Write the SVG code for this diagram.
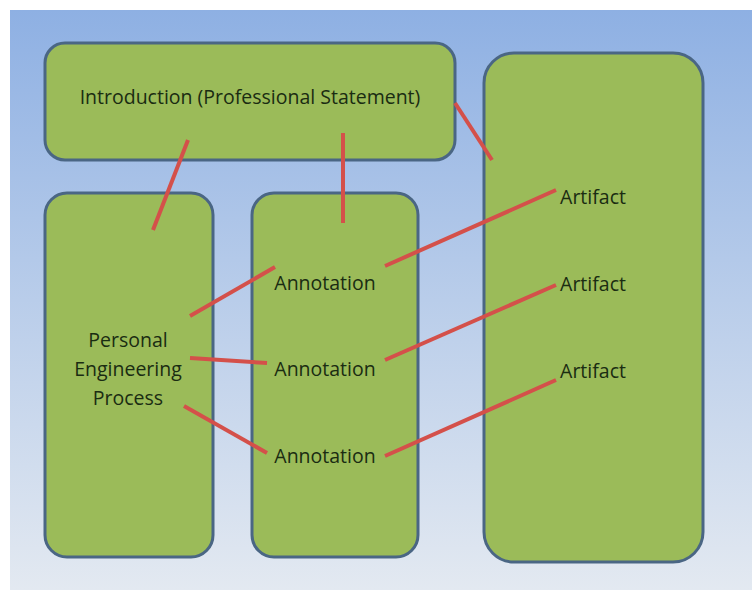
<svg xmlns="http://www.w3.org/2000/svg" width="752" height="591" viewBox="0 0 752 591">
<defs>
<linearGradient id="bg" x1="0" y1="0" x2="0" y2="1">
<stop offset="0" stop-color="#8eb0e3"/>
<stop offset="0.5" stop-color="#b9cdea"/>
<stop offset="1" stop-color="#e3e9f1"/>
</linearGradient>
<style>
.box{fill:#9bbb59;stroke:#4a6684;stroke-width:3}
.lbl{font-family:"Open Sans","Liberation Sans",sans-serif;font-size:19.5px;fill:#1a2c12;text-anchor:middle}
.con{stroke:#d4504a;stroke-width:4;stroke-linecap:butt;fill:none}
</style>
</defs>
<rect width="752" height="591" fill="#ffffff"/>
<rect x="10" y="10" width="742" height="580" fill="url(#bg)"/>
<g id="intro"><rect class="box" x="45" y="43" width="410" height="117" rx="20"/><text class="lbl" x="250" y="104">Introduction (Professional Statement)</text></g>
<g id="personal"><rect class="box" x="45" y="193" width="168" height="364" rx="22"/><text class="lbl" x="128" y="347">Personal</text><text class="lbl" x="128" y="376">Engineering</text><text class="lbl" x="128" y="405">Process</text></g>
<g id="annotations"><rect class="box" x="252" y="193" width="166" height="364" rx="22"/><text class="lbl" x="325" y="290">Annotation</text><text class="lbl" x="325" y="376">Annotation</text><text class="lbl" x="325" y="463">Annotation</text></g>
<g id="artifacts"><rect class="box" x="484" y="53" width="219" height="509" rx="30"/><text class="lbl" x="593" y="204">Artifact</text><text class="lbl" x="593" y="291">Artifact</text><text class="lbl" x="593" y="378">Artifact</text></g>
<g id="connectors">
<line class="con" x1="188" y1="140" x2="153" y2="230"/>
<line class="con" x1="343" y1="133" x2="343" y2="223"/>
<line class="con" x1="455" y1="103" x2="492" y2="160"/>
<line class="con" x1="385" y1="266" x2="556" y2="190"/>
<line class="con" x1="190" y1="316" x2="275" y2="267"/>
<line class="con" x1="385" y1="360" x2="556" y2="285"/>
<line class="con" x1="190" y1="358" x2="267" y2="363"/>
<line class="con" x1="385" y1="456" x2="556" y2="380"/>
<line class="con" x1="184" y1="406" x2="267" y2="453"/>
</g>
</svg>
